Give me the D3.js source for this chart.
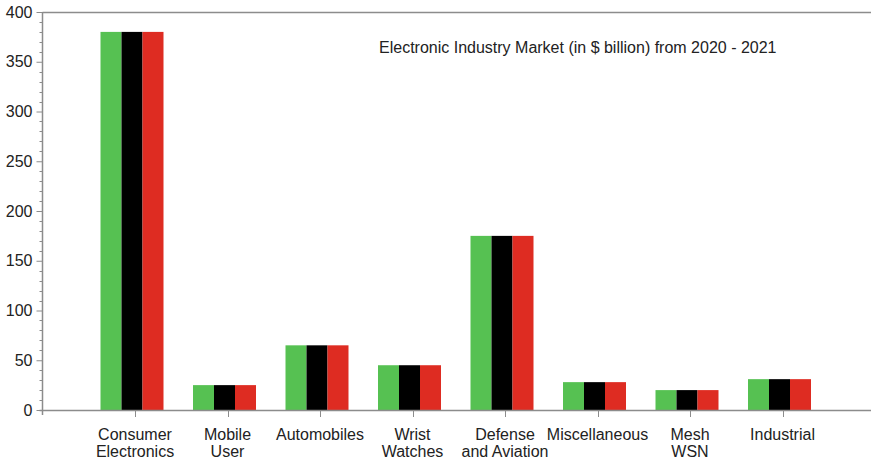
<!DOCTYPE html>
<html>
<head>
<meta charset="utf-8">
<script src="https://cdn.jsdelivr.net/npm/d3@7"></script>
<style>
  body { margin: 0; background: #fff; }
  text { font-family: "Liberation Sans", Arial, sans-serif; fill: #222; }
</style>
</head>
<body>
<div id="grafico"></div>
<script>
// dados
var categorias = [
  ["Consumer", "Electronics"],
  ["Mobile", "User"],
  ["Automobiles"],
  ["Wrist", "Watches"],
  ["Defense", "and Aviation"],
  ["Miscellaneous"],
  ["Mesh", "WSN"],
  ["Industrial"]
];
var serie1 = [380, 25, 65, 45, 175, 28, 20, 31];
var serie2 = [380, 25, 65, 45, 175, 28, 20, 31];
var serie3 = [380, 25, 65, 45, 175, 28, 20, 31];
var series = ["serie1", "serie2", "serie3"];
var cores = ["#56c152", "#000000", "#de2c22"];
var yTicks = [0, 50, 100, 150, 200, 250, 300, 350, 400];
var titulo = "Electronic Industry Market (in $ billion) from 2020 - 2021";

var width = 871,
    height = 462,
    eixoX = 42.5,
    topo = 12,
    base = 410;

var dados = categorias.map(function(c, i) {
  return { nome: c, serie1: serie1[i], serie2: serie2[i], serie3: serie3[i] };
});

var svg = d3.select("#grafico").append("svg")
  .attr("width", width)
  .attr("height", height);

var x = d3.scaleBand()
  .domain(d3.range(categorias.length))
  .range([88.75, 828.75])
  .padding(0);

var xs = d3.scaleBand()
  .domain(series)
  .range([0, 63]);

var y = d3.scaleLinear()
  .domain([0, 400])
  .range([base, topo]);

var cinza = "#8c8c8c";

// linha de cima
svg.append("line")
  .attr("x1", eixoX).attr("x2", width)
  .attr("y1", topo + 0.5).attr("y2", topo + 0.5)
  .attr("stroke", cinza).attr("stroke-width", 1.5);

// barras (um pouco à esquerda do tick, como no original)
var grupo = svg.append("g").selectAll("g")
  .data(dados)
  .enter().append("g")
  .attr("transform", function(d, i) {
    return "translate(" + (x(i) + x.bandwidth() / 2 - 34.5) + ",0)";
  });

grupo.selectAll("rect")
  .data(function(d) { return series.map(function(s) { return { s: s, v: d[s] }; }); })
  .enter().append("rect")
  .attr("x", function(d) { return xs(d.s); })
  .attr("width", xs.bandwidth())
  .attr("y", function(d) { return y(d.v); })
  .attr("height", function(d) { return base - y(d.v); })
  .attr("fill", function(d, i) { return cores[i]; });

// eixo y: ticks menores
var menores = d3.range(0, 401, 10).filter(function(v) { return v % 50 != 0; });
svg.append("g").selectAll("line")
  .data(menores)
  .enter().append("line")
  .attr("x1", eixoX - 3).attr("x2", eixoX)
  .attr("y1", function(d) { return Math.round(y(d)) + 0.5; })
  .attr("y2", function(d) { return Math.round(y(d)) + 0.5; })
  .attr("stroke", cinza);

var eixoY = svg.append("g")
  .attr("transform", "translate(" + eixoX + ",0)")
  .call(d3.axisLeft(y).tickValues(yTicks).tickSize(6).tickPadding(4));
eixoY.select(".domain").remove();
eixoY.selectAll("line").attr("stroke", cinza);
eixoY.selectAll("text")
  .attr("font-size", "16px")
  .attr("font-family", "Liberation Sans, Arial, sans-serif")
  .attr("fill", "#222");

svg.append("line")
  .attr("x1", eixoX).attr("x2", eixoX)
  .attr("y1", topo).attr("y2", base + 5)
  .attr("stroke", cinza).attr("stroke-width", 1.5);

// eixo x
svg.append("line")
  .attr("x1", eixoX - 3).attr("x2", width)
  .attr("y1", base + 0.5).attr("y2", base + 0.5)
  .attr("stroke", cinza).attr("stroke-width", 1.5);

svg.append("g").selectAll("line")
  .data(dados)
  .enter().append("line")
  .attr("x1", function(d, i) { return Math.round(x(i) + x.bandwidth() / 2) + 0.5; })
  .attr("x2", function(d, i) { return Math.round(x(i) + x.bandwidth() / 2) + 0.5; })
  .attr("y1", base).attr("y2", base + 7)
  .attr("stroke", cinza);

var rotulos = svg.append("g").selectAll("text")
  .data(dados)
  .enter().append("text")
  .attr("text-anchor", "middle")
  .attr("font-size", "16px")
  .attr("y", 440);

rotulos.selectAll("tspan")
  .data(function(d, i) { return d.nome.map(function(t) { return { t: t, i: i }; }); })
  .enter().append("tspan")
  .attr("x", function(d) { return x(d.i) + x.bandwidth() / 2; })
  .attr("dy", function(d, j) { return j == 0 ? 0 : 17; })
  .text(function(d) { return d.t; });

// titulo
svg.append("text")
  .attr("x", 379)
  .attr("y", 53)
  .attr("font-size", "16px")
  .text(titulo);
</script>
</body>
</html>
